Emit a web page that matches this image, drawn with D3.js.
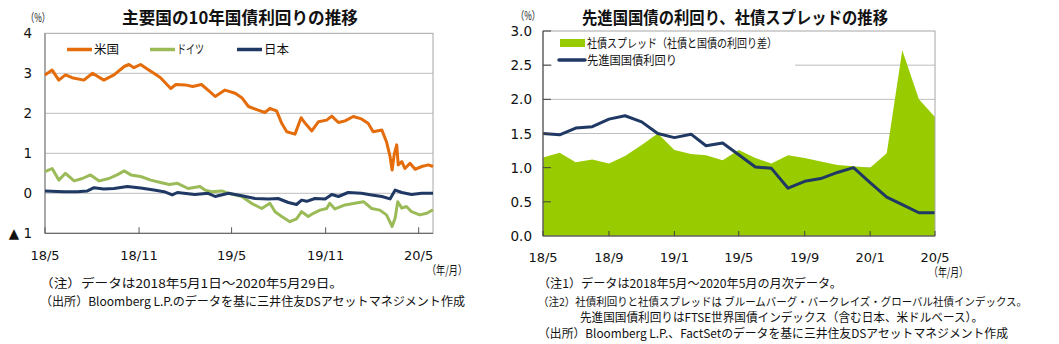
<!DOCTYPE html>
<html>
<head>
<meta charset="utf-8">
<script src="https://cdn.jsdelivr.net/npm/d3@7"></script>
<style>
  body { margin: 0; background: #fff; }
  svg text { font-family: "Noto Sans CJK JP", "DejaVu Sans", sans-serif; fill: #111; }
  .num { font-family: "DejaVu Sans", sans-serif; }
</style>
</head>
<body>
<div class="chart"></div>
<script>
// ---- left chart data (10y yields) ----
var usDates = ["2018-05-01","2018-05-15","2018-05-28","2018-06-10","2018-06-23","2018-07-16","2018-08-02","2018-08-24","2018-09-13","2018-10-03","2018-10-12","2018-10-22","2018-11-04","2018-11-17","2018-11-30","2018-12-13",
  "2019-01-02","2019-01-12","2019-01-30","2019-02-14","2019-03-03","2019-03-16","2019-03-30","2019-04-18","2019-05-08","2019-05-21","2019-06-03","2019-06-22","2019-07-05","2019-07-15","2019-07-28","2019-08-07","2019-08-17","2019-09-02","2019-09-14","2019-09-22","2019-10-05","2019-10-18","2019-11-03","2019-11-13","2019-11-26","2019-12-09","2019-12-25",
  "2020-01-10","2020-01-23","2020-02-02","2020-02-19","2020-02-28","2020-03-06","2020-03-10","2020-03-14","2020-03-19","2020-03-22","2020-03-29","2020-04-04","2020-04-14","2020-04-24","2020-05-07","2020-05-20","2020-05-29"];
var usYield = [2.96,3.08,2.83,2.96,2.89,2.83,3.00,2.83,2.96,3.17,3.22,3.14,3.22,3.11,3.00,2.89,
  2.62,2.72,2.71,2.67,2.72,2.58,2.42,2.58,2.50,2.39,2.17,2.08,2.02,2.12,2.06,1.75,1.54,1.48,1.89,1.75,1.56,1.79,1.83,1.93,1.77,1.81,1.92,
  1.86,1.75,1.54,1.58,1.29,0.92,0.58,0.96,1.21,0.71,0.79,0.62,0.75,0.60,0.67,0.71,0.67];

var deDates = ["2018-05-01","2018-05-15","2018-05-28","2018-06-10","2018-06-27","2018-07-13","2018-07-29","2018-08-15","2018-09-03","2018-09-19","2018-10-03","2018-10-16","2018-11-04","2018-11-24","2018-12-13","2018-12-30",
  "2019-01-15","2019-02-05","2019-02-28","2019-03-10","2019-03-23","2019-04-12","2019-04-25","2019-05-21","2019-06-09","2019-06-29","2019-07-15","2019-07-25","2019-08-07","2019-08-23","2019-09-05","2019-09-15","2019-09-28","2019-10-08","2019-10-21","2019-11-03","2019-11-09","2019-11-19","2019-12-09","2019-12-28",
  "2020-01-14","2020-01-30","2020-02-15","2020-02-28","2020-03-10","2020-03-16","2020-03-21","2020-03-29","2020-04-07","2020-04-17","2020-05-03","2020-05-17","2020-05-29"];
var deYield = [0.54,0.62,0.33,0.50,0.31,0.37,0.46,0.31,0.37,0.46,0.56,0.46,0.42,0.33,0.27,0.22,
  0.25,0.12,0.17,0.08,0.04,0.06,0.00,-0.08,-0.25,-0.38,-0.25,-0.46,-0.58,-0.71,-0.64,-0.46,-0.58,-0.50,-0.42,-0.38,-0.25,-0.39,-0.29,-0.25,
  -0.21,-0.38,-0.42,-0.54,-0.83,-0.62,-0.21,-0.37,-0.33,-0.46,-0.54,-0.50,-0.41];

var jpDates = ["2018-05-01","2018-06-07","2018-07-03","2018-07-23","2018-08-05","2018-08-24","2018-09-13","2018-10-09","2018-11-04","2018-11-30","2018-12-20",
  "2019-01-05","2019-01-15","2019-02-18","2019-03-16","2019-03-30","2019-04-25","2019-05-21","2019-06-16","2019-07-12","2019-07-31","2019-08-20","2019-09-05","2019-09-15","2019-09-25","2019-10-11","2019-10-31","2019-11-13","2019-11-26","2019-12-15",
  "2020-01-10","2020-01-30","2020-02-19","2020-03-06","2020-03-16","2020-03-29","2020-04-17","2020-05-07","2020-05-29"];
var jpYield = [0.06,0.04,0.04,0.06,0.14,0.11,0.12,0.17,0.13,0.08,0.04,
  -0.04,0.02,-0.03,0.00,-0.08,0.00,-0.06,-0.13,-0.14,-0.13,-0.23,-0.28,-0.17,-0.20,-0.13,-0.14,-0.03,-0.08,0.02,
  0.00,-0.04,-0.08,-0.14,0.08,0.02,-0.03,0.00,0.00];

var leftTicksY = [4, 3, 2, 1, 0, -1];
var leftTicksX = ["2018-05-01","2018-11-01","2019-05-01","2019-11-01","2020-05-01"];

// ---- right chart data (monthly) ----
var months = ["2018-05","2018-06","2018-07","2018-08","2018-09","2018-10","2018-11","2018-12",
  "2019-01","2019-02","2019-03","2019-04","2019-05","2019-06","2019-07","2019-08","2019-09","2019-10","2019-11","2019-12",
  "2020-01","2020-02","2020-03","2020-04","2020-05"];
var spread = [1.15,1.22,1.08,1.12,1.06,1.17,1.33,1.50,1.26,1.20,1.18,1.11,1.26,1.14,1.06,1.18,1.14,1.09,1.04,1.02,1.00,1.21,2.72,2.00,1.74];
var govYield = [1.50,1.48,1.58,1.60,1.71,1.76,1.67,1.50,1.44,1.49,1.32,1.36,1.19,1.01,0.99,0.70,0.80,0.84,0.93,1.00,0.78,0.57,0.46,0.34,0.34];
var rightTicksY = [0, 0.5, 1, 1.5, 2, 2.5, 3];
var rightTicksX = ["2018-05","2018-09","2019-01","2019-05","2019-09","2020-01","2020-05"];

var parseDay = d3.timeParse("%Y-%m-%d");
var parseMonth = d3.timeParse("%Y-%m");
var fmtTick = d3.timeFormat("%y/%-m");

var svg = d3.select(".chart").append("svg")
  .attr("width", 1059).attr("height", 344);

// helper: text squeezed/stretched to the width seen in the picture
function fitText(g, x, y, size, width, str) {
  return g.append("text").attr("x", x).attr("y", y)
    .style("font-size", size + "px")
    .attr("textLength", width).attr("lengthAdjust", "spacingAndGlyphs")
    .text(str);
}

// ================= LEFT CHART =================
var L = { left: 45, right: 433, top: 33.3, bottom: 233.3 };
var xL = d3.scaleTime().domain([parseDay("2018-05-01"), parseDay("2020-05-29")]).range([L.left, L.right]);
var yL = d3.scaleLinear().domain([-1, 4]).range([L.bottom, L.top]);

var left = svg.append("g");

// gridlines
left.selectAll(".gridL").data([3, 2, 1, 0]).enter().append("line")
  .attr("x1", L.left).attr("x2", L.right)
  .attr("y1", function(d) { return yL(d); }).attr("y2", function(d) { return yL(d); })
  .attr("stroke", "#bdbdbd").attr("stroke-width", 1);

// frame
left.append("rect").attr("x", L.left).attr("y", L.top)
  .attr("width", L.right - L.left).attr("height", L.bottom - L.top)
  .attr("fill", "none").attr("stroke", "#a6a6a6");
left.append("line").attr("x1", L.left).attr("x2", L.left).attr("y1", L.top).attr("y2", L.bottom)
  .attr("stroke", "#808080");
left.append("line").attr("x1", L.left).attr("x2", L.right).attr("y1", L.bottom).attr("y2", L.bottom)
  .attr("stroke", "#595959");

// x ticks (inside)
left.selectAll(".tickL").data(leftTicksX).enter().append("line")
  .attr("x1", function(d) { return xL(parseDay(d)); }).attr("x2", function(d) { return xL(parseDay(d)); })
  .attr("y1", L.bottom).attr("y2", L.bottom - 6)
  .attr("stroke", "#595959");

left.selectAll(".xlabL").data(leftTicksX).enter().append("text")
  .attr("class", "num")
  .attr("x", function(d) { return xL(parseDay(d)); })
  .attr("y", 260)
  .attr("text-anchor", "middle")
  .style("font-size", "13px")
  .text(function(d) { return fmtTick(parseDay(d)); });

left.selectAll(".ylabL").data(leftTicksY).enter().append("text")
  .attr("class", "num")
  .attr("x", 32)
  .attr("y", function(d) { return yL(d) + 5; })
  .attr("text-anchor", "end")
  .style("font-size", "13.5px")
  .text(function(d) { return d < 0 ? "▲ " + Math.abs(d) : d; });

var lineL = d3.line()
  .x(function(d) { return xL(d[0]); })
  .y(function(d) { return yL(d[1]); });

var seriesL = [
  { dates: deDates, vals: deYield, color: "#9bbb59" },
  { dates: jpDates, vals: jpYield, color: "#1f3864" },
  { dates: usDates, vals: usYield, color: "#e46c0a" }
];
seriesL.forEach(function(s) {
  var pts = d3.zip(s.dates.map(parseDay), s.vals);
  left.append("path").datum(pts)
    .attr("d", lineL)
    .attr("fill", "none")
    .attr("stroke", s.color)
    .attr("stroke-width", 3)
    .attr("stroke-linejoin", "round");
});

// legend
var legL = [
  { name: "米国", color: "#e46c0a", x: 67, w: 25 },
  { name: "ドイツ", color: "#9bbb59", x: 150, w: 27 },
  { name: "日本", color: "#1f3864", x: 237, w: 25 }
];
legL.forEach(function(d) {
  left.append("line").attr("x1", d.x).attr("x2", d.x + 25).attr("y1", 49.5).attr("y2", 49.5)
    .attr("stroke", d.color).attr("stroke-width", 3.5);
  fitText(left, d.x + 27, 54, 12.5, d.w, d.name);
});

fitText(left, 122, 24, 17, 236, "主要国の10年国債利回りの推移").style("font-weight", "bold");
fitText(left, 26, 22, 11.5, 24, "（%）");
fitText(left, 427, 275, 12, 40, "（年/月）");
fitText(left, 40, 288, 12, 303, "（注）データは2018年5月1日～2020年5月29日。");
fitText(left, 40, 305.5, 12, 425, "（出所）Bloomberg L.P.のデータを基に三井住友DSアセットマネジメント作成");

// ================= RIGHT CHART =================
var R = { left: 543, right: 935, top: 31, bottom: 236 };
var xR = d3.scaleTime().domain([parseMonth("2018-05"), parseMonth("2020-05")]).range([R.left, R.right]);
var yR = d3.scaleLinear().domain([0, 3]).range([R.bottom, R.top]);

var right = svg.append("g");

right.selectAll(".gridR").data([0.5, 1, 1.5, 2, 2.5]).enter().append("line")
  .attr("x1", R.left).attr("x2", R.right)
  .attr("y1", function(d) { return yR(d); }).attr("y2", function(d) { return yR(d); })
  .attr("stroke", "#bdbdbd");

var rows = d3.zip(months.map(parseMonth), spread, govYield);

right.append("path").datum(rows)
  .attr("d", d3.area()
    .x(function(d) { return xR(d[0]); })
    .y0(yR(0))
    .y1(function(d) { return yR(d[1]); }))
  .attr("fill", "#99cc00");

// legend box sits over the grid
right.append("rect").attr("x", 552).attr("y", 36).attr("width", 243).attr("height", 34).attr("fill", "#fff");

right.append("path").datum(rows)
  .attr("d", d3.line()
    .x(function(d) { return xR(d[0]); })
    .y(function(d) { return yR(d[2]); }))
  .attr("fill", "none").attr("stroke", "#1f3864").attr("stroke-width", 3)
  .attr("stroke-linejoin", "round");

right.append("rect").attr("x", R.left).attr("y", R.top)
  .attr("width", R.right - R.left).attr("height", R.bottom - R.top)
  .attr("fill", "none").attr("stroke", "#a6a6a6");
right.append("line").attr("x1", R.left).attr("x2", R.left).attr("y1", R.top).attr("y2", R.bottom)
  .attr("stroke", "#404040");
right.append("line").attr("x1", R.left).attr("x2", R.right).attr("y1", R.bottom).attr("y2", R.bottom)
  .attr("stroke", "#404040");

// inside ticks
right.selectAll(".tickR").data(rightTicksX).enter().append("line")
  .attr("x1", function(d) { return xR(parseMonth(d)); }).attr("x2", function(d) { return xR(parseMonth(d)); })
  .attr("y1", R.bottom).attr("y2", R.bottom - 5)
  .attr("stroke", "#404040");
right.selectAll(".ytickR").data(rightTicksY.slice(1)).enter().append("line")
  .attr("x1", R.left).attr("x2", R.left + 8)
  .attr("y1", function(d) { return yR(d); }).attr("y2", function(d) { return yR(d); })
  .attr("stroke", "#404040");

right.selectAll(".xlabR").data(rightTicksX).enter().append("text")
  .attr("class", "num")
  .attr("x", function(d) { return xR(parseMonth(d)); })
  .attr("y", 262)
  .attr("text-anchor", "middle")
  .style("font-size", "13px")
  .text(function(d) { return fmtTick(parseMonth(d)); });

right.selectAll(".ylabR").data(rightTicksY).enter().append("text")
  .attr("class", "num")
  .attr("x", 532)
  .attr("y", function(d) { return yR(d) + 5; })
  .attr("text-anchor", "end")
  .style("font-size", "13.5px")
  .text(function(d) { return d3.format(".1f")(d); });

// legend
right.append("rect").attr("x", 560).attr("y", 39).attr("width", 25).attr("height", 8).attr("fill", "#99cc00");
fitText(right, 587, 48, 12, 190, "社債スプレッド（社債と国債の利回り差）");
right.append("line").attr("x1", 559).attr("x2", 585).attr("y1", 60).attr("y2", 60)
  .attr("stroke", "#1f3864").attr("stroke-width", 3.5).attr("stroke-linecap", "round");
fitText(right, 587, 65, 12, 90, "先進国国債利回り");

fitText(right, 582, 24, 17, 306, "先進国国債の利回り、社債スプレッドの推移").style("font-weight", "bold");
fitText(right, 516, 20, 11.5, 24, "（%）");
fitText(right, 929, 277, 12, 39, "（年/月）");

// notes (font sizes chosen so the unstretched text also stays inside the page)
var notesR = [
  { x: 538, y: 288, w: 304, s: 12, t: "（注1）データは2018年5月～2020年5月の月次データ。" },
  { x: 538, y: 305.5, w: 489, s: 11, t: "（注2）社債利回りと社債スプレッドは ブルームバーグ・バークレイズ・グローバル社債インデックス。" },
  { x: 580, y: 321.5, w: 403, s: 12, t: "先進国国債利回りはFTSE世界国債インデックス（含む日本、米ドルベース）。" },
  { x: 538, y: 338, w: 470, s: 12, t: "（出所）Bloomberg L.P.、FactSetのデータを基に三井住友DSアセットマネジメント作成" }
];
notesR.forEach(function(d) { fitText(right, d.x, d.y, d.s, d.w, d.t); });
</script>
</body>
</html>
